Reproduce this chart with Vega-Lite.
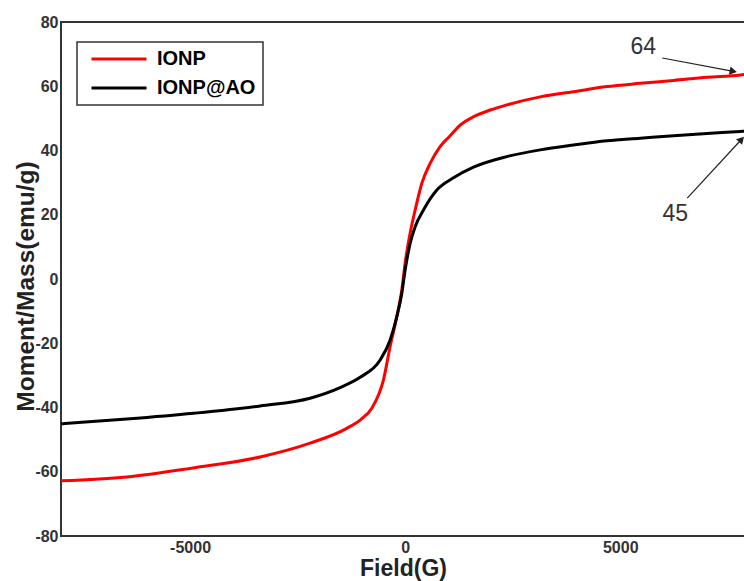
{
  "$schema": "https://vega.github.io/schema/vega-lite/v6.json",
  "autosize": "none",
  "width": 684,
  "height": 514,
  "padding": {"left": 61, "top": 22, "right": 0, "bottom": 45},
  "background": "white",
  "config": {
    "view": {"stroke": "#333333", "strokeWidth": 2},
    "font": "Liberation Sans",
    "axis": {
      "labelFont": "Liberation Sans",
      "labelFontWeight": "bold",
      "labelFontSize": 16,
      "labelColor": "#333333",
      "titleFont": "Liberation Sans",
      "titleFontWeight": "bold",
      "titleFontSize": 23,
      "titleColor": "#222222",
      "ticks": false,
      "grid": false,
      "domain": false
    },
    "legend": {"strokeWidth": 1.5}
  },
  "layer": [
    {
      "data": {
        "values": [
          {"field": -8000, "m": -62.8, "s": "IONP"},
          {"field": -6470, "m": -61.6, "s": "IONP"},
          {"field": -4930, "m": -58.8, "s": "IONP"},
          {"field": -3370, "m": -55.4, "s": "IONP"},
          {"field": -2210, "m": -51.1, "s": "IONP"},
          {"field": -1357, "m": -46.5, "s": "IONP"},
          {"field": -1047, "m": -43.9, "s": "IONP"},
          {"field": -775, "m": -40.2, "s": "IONP"},
          {"field": -504, "m": -31.4, "s": "IONP"},
          {"field": -349, "m": -21.0, "s": "IONP"},
          {"field": -194, "m": -11.7, "s": "IONP"},
          {"field": -78, "m": -3.4, "s": "IONP"},
          {"field": 0, "m": 5.0, "s": "IONP"},
          {"field": 116, "m": 14.3, "s": "IONP"},
          {"field": 233, "m": 21.5, "s": "IONP"},
          {"field": 388, "m": 29.8, "s": "IONP"},
          {"field": 581, "m": 36.0, "s": "IONP"},
          {"field": 800, "m": 41.0, "s": "IONP"},
          {"field": 1047, "m": 44.6, "s": "IONP"},
          {"field": 1279, "m": 47.9, "s": "IONP"},
          {"field": 1589, "m": 50.5, "s": "IONP"},
          {"field": 1977, "m": 52.6, "s": "IONP"},
          {"field": 2365, "m": 54.2, "s": "IONP"},
          {"field": 3140, "m": 56.7, "s": "IONP"},
          {"field": 3915, "m": 58.3, "s": "IONP"},
          {"field": 4690, "m": 59.9, "s": "IONP"},
          {"field": 5465, "m": 60.9, "s": "IONP"},
          {"field": 6240, "m": 61.8, "s": "IONP"},
          {"field": 7016, "m": 62.8, "s": "IONP"},
          {"field": 7790, "m": 63.5, "s": "IONP"},
          {"field": 7900, "m": 63.7, "s": "IONP"},
          {"field": -8000, "m": -45.1, "s": "IONP@AO"},
          {"field": -6470, "m": -43.6, "s": "IONP@AO"},
          {"field": -4920, "m": -41.8, "s": "IONP@AO"},
          {"field": -3370, "m": -39.5, "s": "IONP@AO"},
          {"field": -2210, "m": -37.1, "s": "IONP@AO"},
          {"field": -1512, "m": -33.8, "s": "IONP@AO"},
          {"field": -1047, "m": -30.6, "s": "IONP@AO"},
          {"field": -581, "m": -25.2, "s": "IONP@AO"},
          {"field": -349, "m": -19.0, "s": "IONP@AO"},
          {"field": -194, "m": -11.7, "s": "IONP@AO"},
          {"field": -78, "m": -4.5, "s": "IONP@AO"},
          {"field": 0, "m": 2.8, "s": "IONP@AO"},
          {"field": 116, "m": 11.1, "s": "IONP@AO"},
          {"field": 233, "m": 16.3, "s": "IONP@AO"},
          {"field": 426, "m": 21.5, "s": "IONP@AO"},
          {"field": 737, "m": 27.7, "s": "IONP@AO"},
          {"field": 1124, "m": 31.5, "s": "IONP@AO"},
          {"field": 1589, "m": 34.8, "s": "IONP@AO"},
          {"field": 2365, "m": 38.1, "s": "IONP@AO"},
          {"field": 3140, "m": 40.2, "s": "IONP@AO"},
          {"field": 3915, "m": 41.7, "s": "IONP@AO"},
          {"field": 4690, "m": 43.0, "s": "IONP@AO"},
          {"field": 5465, "m": 43.8, "s": "IONP@AO"},
          {"field": 6240, "m": 44.6, "s": "IONP@AO"},
          {"field": 7016, "m": 45.3, "s": "IONP@AO"},
          {"field": 7790, "m": 45.9, "s": "IONP@AO"},
          {"field": 7900, "m": 46.0, "s": "IONP@AO"}
        ]
      },
      "mark": {"type": "line", "strokeWidth": 3, "interpolate": "monotone", "clip": true},
      "encoding": {
        "x": {
          "field": "field",
          "type": "quantitative",
          "scale": {"domain": [-8000, 7900], "nice": false, "zero": false},
          "axis": {"values": [-5000, 0, 5000], "labelExpr": "'' + datum.value", "labelPadding": 3, "title": "Field(G)", "titlePadding": 2}
        },
        "y": {
          "field": "m",
          "type": "quantitative",
          "scale": {"domain": [-80, 80], "nice": false},
          "axis": {"values": [-80, -60, -40, -20, 0, 20, 40, 60, 80], "labelExpr": "'' + datum.value", "labelPadding": 3, "title": "Moment/Mass(emu/g)", "titleFontSize": 24.5, "titlePadding": -4, "titleY": 264}
        },
        "color": {
          "field": "s",
          "type": "nominal",
          "scale": {"domain": ["IONP", "IONP@AO"], "range": ["#ff0000", "#000000"]},
          "legend": {
            "title": null,
            "orient": "none",
            "legendX": 16,
            "legendY": 20,
            "strokeColor": "#333333",
            "padding": 7,
            "symbolType": "M-0.5,0H10.5",
            "symbolSize": 100,
            "symbolStrokeWidth": 3,
            "labelFont": "Liberation Sans",
            "labelFontWeight": "bold",
            "labelFontSize": 20,
            "labelColor": "#000000",
            "labelOffset": 53,
            "rowPadding": 9
          }
        }
      }
    },
    {
      "data": {
        "values": [
          {"x": 5977, "y": 68.8, "x2": 7600, "y2": 64.7},
          {"x": 6558, "y": 25.2, "x2": 7800, "y2": 43.2}
        ]
      },
      "mark": {"type": "rule", "color": "#222222", "strokeWidth": 1.2},
      "encoding": {
        "x": {"field": "x", "type": "quantitative"},
        "y": {"field": "y", "type": "quantitative"},
        "x2": {"field": "x2"},
        "y2": {"field": "y2"}
      }
    },
    {
      "data": {
        "values": [
          {"x": 7600, "y": 64.7, "a": 101},
          {"x": 7800, "y": 43.2, "a": 43}
        ]
      },
      "mark": {"type": "point", "shape": "triangle", "filled": true, "color": "#222222", "size": 70, "opacity": 1},
      "encoding": {
        "x": {"field": "x", "type": "quantitative"},
        "y": {"field": "y", "type": "quantitative"},
        "angle": {"field": "a", "type": "quantitative", "scale": null}
      }
    },
    {
      "data": {
        "values": [
          {"x": 5535, "y": 72.2, "t": "64"},
          {"x": 6279, "y": 20.2, "t": "45"}
        ]
      },
      "mark": {"type": "text", "font": "Liberation Sans", "fontSize": 23, "color": "#333333", "baseline": "middle", "align": "center"},
      "encoding": {
        "x": {"field": "x", "type": "quantitative"},
        "y": {"field": "y", "type": "quantitative"},
        "text": {"field": "t", "type": "nominal"}
      }
    }
  ]
}
